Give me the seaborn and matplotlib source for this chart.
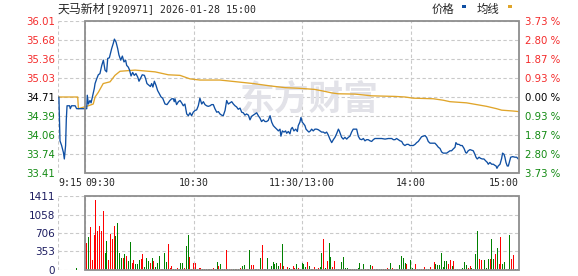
import matplotlib
matplotlib.use("Agg")
import matplotlib.pyplot as plt
import seaborn as sns
import pandas as pd
from matplotlib.patches import Rectangle

# ---------------- data ----------------
title_name = "天马新材"
title_rest = "[920971] 2026-01-28 15:00"
legend_labels = ["价格", "均线"]
watermark = "东方财富"

# minutes after 09:15
time_ticks = [0, 15, 75, 135, 195, 255]
time_labels = ["9:15", "09:30", "10:30", "11:30/13:00", "14:00", "15:00"]

price_ticks = [33.41, 33.74, 34.06, 34.39, 34.71, 35.03, 35.36, 35.68, 36.01]
price_labels = ["33.41", "33.74", "34.06", "34.39", "34.71", "35.03", "35.36", "35.68", "36.01"]
pct_labels = ["3.73 %", "2.80 %", "1.87 %", "0.93 %", "0.00 %", "0.93 %", "1.87 %", "2.80 %", "3.73 %"]
prev_close = 34.71

vol_ticks = [0, 353, 706, 1058, 1411]

price_times = [
    0.5, 1.1, 2.0, 3.0, 3.5, 4.2, 4.6, 5.0, 6.4, 6.8, 7.5, 9.5, 10.3, 15.0,
    15.9, 16.2, 16.8, 17.7, 18.3, 19.0, 20.1, 20.5, 21.4, 22.3, 23.2, 24.2, 25.1, 26.0, 26.9, 27.5,
    28.4, 29.7, 30.6, 31.2, 32.1, 33.0, 33.7, 34.7, 35.6, 36.5, 37.4, 38.0, 38.9, 39.6, 40.4, 41.3,
    42.2, 43.1, 44.1, 44.8, 45.5, 46.6, 47.8, 48.5, 49.2, 50.3, 51.1, 51.8, 52.5, 53.3, 54.2, 55.1,
    56.0, 57.0, 57.9, 59.2, 60.3, 61.0, 61.9, 62.9, 63.8, 64.3,
    64.7, 65.6, 66.6, 67.5, 68.4, 69.3, 70.2, 71.2, 72.1, 73.0, 73.9, 74.8, 75.8, 76.7, 77.6, 78.5,
    79.5, 80.4, 81.3, 82.2, 83.1, 84.1, 85.0, 85.9, 86.8, 87.8, 88.7, 89.6, 90.5, 91.4, 92.4, 93.3,
    94.2, 95.1, 96.1, 97.0, 97.9, 98.8, 99.7, 100.7, 101.6, 102.5, 103.4, 104.3, 105.3, 106.2, 107.1,
    108.0, 109.0, 109.9, 110.8, 111.7, 112.6, 113.6, 114.5, 115.4, 116.3, 117.3, 118.2, 119.1, 120.0,
    121.0, 121.9, 122.8, 123.3, 124.1, 125.0, 125.9, 126.5, 127.4,
    128.3, 128.9, 129.6, 130.5, 131.5, 132.4, 132.9, 133.8, 134.4, 135.1, 135.9, 136.6, 137.2, 138.1,
    138.8, 139.6, 140.3, 141.2, 142.1, 143.1, 144.0, 144.9, 145.8, 146.8, 147.7, 148.6, 149.5, 150.4,
    151.4, 152.3, 153.2, 154.1, 155.1, 155.6, 156.2, 156.9, 157.8, 158.7, 159.7, 160.6, 161.5, 162.4,
    163.3, 164.3, 165.2, 166.1, 167.0, 168.0, 168.9, 169.8, 170.7, 171.6, 172.6, 173.5, 174.4, 175.3,
    177.2, 179.0, 180.9, 182.7, 184.6, 185.5, 186.4, 187.3, 188.2, 189.2,
    190.1, 191.0, 191.9, 192.9, 193.8, 194.7, 195.6, 196.5, 197.5, 198.4, 199.3, 200.2, 201.1, 202.1,
    203.0, 203.9, 204.8, 205.8, 206.7, 207.6, 208.5, 209.4, 210.4, 211.3, 212.2, 213.1, 214.0, 215.0,
    215.9, 216.8, 217.7, 218.6, 219.6, 220.1, 220.9, 221.8, 222.7, 223.6, 224.6, 225.5, 226.0, 226.9,
    227.9, 228.8, 229.7, 230.6, 231.2, 231.9, 232.9, 233.8, 234.7, 235.6, 236.5, 237.5, 238.0, 238.9,
    239.9, 240.8, 241.7, 242.3, 242.8, 243.5, 244.5, 245.4, 245.9, 246.7, 247.2, 247.8, 248.5, 249.1,
    249.6, 250.4, 251.5, 252.8, 253.7, 254.6,
]
price_values = [
    34.71, 33.96, 33.88, 33.76, 33.65, 33.88, 34.33, 34.56, 34.56, 34.51, 34.56, 34.56, 34.51, 34.51,
    34.51, 34.74, 34.59, 34.65, 34.61, 34.71, 34.86, 34.94, 35.02, 35.09, 35.11, 35.25, 35.34, 35.17, 35.14, 35.37,
    35.38, 35.54, 35.63, 35.70, 35.65, 35.54, 35.43, 35.34, 35.41, 35.31, 35.34, 35.25, 35.22, 35.17, 35.07, 35.13,
    35.08, 35.11, 35.05, 34.98, 35.02, 35.09, 35.08, 35.02, 34.94, 34.91, 34.89, 34.94, 34.88, 34.98, 34.91, 34.82,
    34.77, 34.71, 34.69, 34.59, 34.58, 34.61, 34.65, 34.68, 34.68, 34.63,
    34.68, 34.58, 34.63, 34.65, 34.61, 34.56, 34.59, 34.42, 34.39, 34.44, 34.39, 34.45, 34.48, 34.49, 34.56, 34.69,
    34.59, 34.63, 34.58, 34.56, 34.55, 34.56, 34.58, 34.58, 34.51, 34.45, 34.46, 34.42, 34.40, 34.39, 34.48, 34.65,
    34.59, 34.61, 34.63, 34.59, 34.56, 34.54, 34.50, 34.52, 34.45, 34.44, 34.40, 34.42, 34.40, 34.32, 34.38,
    34.40, 34.42, 34.44, 34.39, 34.35, 34.29, 34.32, 34.29, 34.29, 34.31, 34.39, 34.28, 34.22, 34.19,
    34.16, 34.13, 34.16, 34.04, 34.13, 34.11, 34.13, 34.09, 34.12,
    34.08, 34.16, 34.19, 34.13, 34.16, 34.12, 34.22, 34.28, 34.36, 34.28, 34.25, 34.22, 34.16, 34.13,
    34.11, 34.13, 34.16, 34.13, 34.16, 34.16, 34.15, 34.13, 34.11, 34.11, 34.09, 34.11, 34.06, 33.99,
    33.93, 33.98, 34.02, 34.08, 34.16, 34.13, 34.08, 34.02, 33.99, 34.02, 33.99, 34.02, 34.04, 34.11,
    34.16, 34.16, 34.16, 34.04, 33.99, 33.98, 34.00, 33.96, 33.98, 33.98, 33.96, 33.95, 33.98, 34.00,
    34.00, 34.00, 33.99, 34.00, 34.00, 33.98, 33.98, 34.00, 33.98, 33.96,
    33.95, 33.90, 33.88, 33.90, 33.90, 33.88, 33.88, 33.88, 33.90, 33.93, 33.95, 33.99, 34.03, 34.04,
    34.05, 34.02, 33.95, 33.92, 33.92, 33.92, 33.92, 33.89, 33.85, 33.83, 33.77, 33.75, 33.75, 33.75,
    33.77, 33.79, 33.79, 33.82, 33.85, 33.93, 33.90, 33.90, 33.88, 33.88, 33.83, 33.76, 33.75, 33.79,
    33.81, 33.80, 33.79, 33.73, 33.68, 33.65, 33.68, 33.66, 33.65, 33.65, 33.62, 33.59, 33.56, 33.59,
    33.56, 33.56, 33.54, 33.53, 33.49, 33.53, 33.56, 33.66, 33.75, 33.73, 33.68, 33.59, 33.53, 33.53,
    33.59, 33.68, 33.69, 33.68, 33.68, 33.65,
]

avg_times = [0.5, 10.9, 11.3, 16.8, 19.5, 20.5, 22.3, 25.0, 28.8, 31.5, 34.3, 42.6, 53.7, 61.0, 67.5,
             73.0, 78.5, 89.6, 98.8, 108.0, 117.3, 125.6, 132.9, 142.0, 147.7, 151.4, 155.0, 164.3,
             173.5, 186.4, 192.0, 196.5, 207.6, 213.1, 216.8, 226.0, 231.6, 237.1, 242.6, 245.4, 251.8, 255.0]
avg_values = [34.71, 34.71, 34.51, 34.56, 34.59, 34.71, 34.79, 34.94, 34.97, 35.08, 35.15, 35.17, 35.14, 35.09,
              35.08, 35.02, 35.00, 35.00, 34.97, 34.94, 34.90, 34.87, 34.86, 34.84, 34.805, 34.78, 34.765,
              34.76, 34.73, 34.72, 34.71, 34.69, 34.68, 34.655, 34.63, 34.61, 34.58, 34.55, 34.51, 34.485,
              34.47, 34.46]

# call-auction volume at 09:25 plus one bar per trading minute (09:31 .. 15:00)
auction_time = 10
auction_volume = 39
auction_dir = "g"
vol_values = [
    517, 628, 824, 183, 667, 1334, 745, 843, 745, 1118,
    333, 549, 190, 693, 595, 843, 647, 902, 320, 222,
    222, 300, 275, 176, 530, 137, 196, 118, 105, 196,
    209, 314, 59, 235, 170, 137, 222, 170, 65, 124,
    275, 26, 20, 320, 144, 497, 39, 78, 26, 26,
    39, 20, 124, 124, 39, 451, 667, 242, 26, 124,
    124, 26, 39, 39, 26, 20, 20, 20, 20, 20,
    39, 26, 157, 78, 118, 26, 26, 373, 26, 20,
    20, 20, 20, 20, 20, 39, 78, 92, 20, 20,
    373, 92, 92, 26, 26, 20, 235, 471, 26, 26,
    235, 26, 78, 157, 105, 137, 78, 124, 497, 72,
    26, 59, 39, 20, 72, 39, 105, 39, 26, 137,
    105, 59, 157, 78, 26, 20, 59, 20, 39, 59,
    320, 595, 39, 177, 517, 242, 59, 177, 20, 20,
    20, 157, 255, 39, 39, 20, 20, 20, 20, 20,
    39, 137, 20, 118, 20, 20, 20, 98, 78, 20,
    20, 20, 20, 20, 20, 20, 39, 20, 137, 39,
    20, 20, 20, 98, 275, 235, 137, 105, 20, 196,
    39, 20, 118, 20, 20, 20, 20, 59, 20, 20,
    59, 20, 157, 118, 98, 98, 333, 59, 177, 177,
    118, 196, 78, 177, 20, 20, 20, 20, 39, 157,
    98, 39, 78, 39, 20, 314, 745, 216, 196, 20,
    196, 39, 216, 216, 589, 216, 314, 412, 118, 628,
    118, 157, 20, 20, 667, 216, 294, 20, 20, 314,
]
vol_dirs = list(
    "rgrrrrrrrr" "ggrrrrgggg" "rgrggrrggg" "rrgggrgrgg"
    "grrggrrrgg" "rgggrggrgr" "rgrrgrgrgr" "rggrgggrgr"
    "rggrgrgggr" "grrggrgrgg" "gggggggrgr" "grggrrgrrg"
    "ggrggrrgrg" "grgrggrrgr" "gggggrgrgg" "ggggrrggrr"
    "grggrgrggr" "rggggggrgg" "ggrgrrgrgg" "rgrggggggg"
    "rrgrggrggg" "grrggggrrg" "gggrggrgrr" "gggggrrggg"
)

# ---------------- style ----------------
W, H = 578, 276
BLUE = "#0f4fa3"
GOLD = "#e0a52a"
RED = "#ff0000"
GREEN = "#008000"
UPTXT = "#f42a2a"
DNTXT = "#118a11"
NAVY = "#1c1c60"
GRID = "#c9c9c9"
FRAME = "#8e8e8e"

sns.set_theme(style="white")
plt.rcParams["font.family"] = ["DejaVu Sans", "Noto Sans CJK SC"]

fig = plt.figure(figsize=(W / 100, H / 100), dpi=100)
fig.patch.set_facecolor("white")


def fx(px):
    return px / W


def fy(py):
    return 1 - py / H


ax = fig.add_axes([fx(58), fy(173), fx(519) - fx(58), fy(21) - fy(173)])
axv = fig.add_axes([fx(58), fy(270), fx(519) - fx(58), fy(196) - fy(270)])

# ---------------- price panel ----------------
price_df = pd.DataFrame({"t": price_times, "p": price_values})
avg_df = pd.DataFrame({"t": avg_times, "p": avg_values})
sns.lineplot(data=avg_df, x="t", y="p", ax=ax, color=GOLD, lw=0.95, estimator=None, sort=False, zorder=3)
sns.lineplot(data=price_df, x="t", y="p", ax=ax, color=BLUE, lw=0.95, estimator=None, sort=False, zorder=4)

ax.set_xlim(time_ticks[0], time_ticks[-1])
ax.set_ylim(price_ticks[0], price_ticks[-1])
ax.set_xlabel("")
ax.set_ylabel("")
for s in ax.spines.values():
    s.set_visible(False)
ax.set_axisbelow(True)
ax.grid(True, color=GRID, ls=(0, (3.0, 2.2)), lw=0.8)

ax.set_yticks(price_ticks)
ax.set_yticklabels(price_labels)
ax.tick_params(axis="y", length=0, pad=2, labelsize=7.3)
for lab, v in zip(ax.get_yticklabels(), price_ticks):
    lab.set_color(UPTXT if v > prev_close else ("black" if v == prev_close else DNTXT))

ax.set_xticks(time_ticks)
ax.set_xticklabels(time_labels, family="DejaVu Sans Mono", fontsize=7.1)
ax.tick_params(axis="x", length=0, pad=3.5)
xl = ax.get_xticklabels()
xl[0].set_ha("left")
xl[1].set_ha("left")
xl[-1].set_ha("right")

axr = ax.twinx()
axr.set_ylim(ax.get_ylim())
axr.set_yticks(price_ticks)
axr.set_yticklabels(pct_labels)
axr.tick_params(axis="y", length=0, pad=4.5, labelsize=7.3)
for s in axr.spines.values():
    s.set_visible(False)
axr.grid(False)
for lab, v in zip(axr.get_yticklabels(), price_ticks):
    lab.set_color(UPTXT if v > prev_close else ("black" if v == prev_close else DNTXT))

ax.add_patch(Rectangle((time_ticks[1], price_ticks[0]), time_ticks[-1] - time_ticks[1],
                       price_ticks[-1] - price_ticks[0], fill=False, ec=FRAME, lw=1.3,
                       clip_on=False, zorder=6))

ax.text(0.545, 0.49, watermark, transform=ax.transAxes, ha="center", va="center",
        fontsize=25, fontweight="bold", color="#e2e2e8", family="Noto Sans CJK SC", zorder=1)

# ---------------- volume panel ----------------
vol_df = pd.DataFrame({
    "t": [auction_time] + [time_ticks[1] + i + 1 for i in range(len(vol_values))],
    "v": [auction_volume] + vol_values,
    "d": [auction_dir] + vol_dirs,
})
sns.barplot(data=vol_df, x="t", y="v", hue="d", palette={"r": RED, "g": GREEN}, native_scale=True,
            width=0.55, dodge=False, errorbar=None, saturation=1, legend=False, linewidth=0, ax=axv)
axv.set_xlim(time_ticks[0], time_ticks[-1])
axv.set_ylim(vol_ticks[0], vol_ticks[-1])
axv.set_xlabel("")
axv.set_ylabel("")
for s in axv.spines.values():
    s.set_visible(False)
axv.set_axisbelow(True)
axv.set_xticks(time_ticks)
axv.set_xticklabels([])
axv.grid(True, color=GRID, ls=(0, (3.0, 2.2)), lw=0.8)
axv.set_yticks(vol_ticks)
axv.set_yticklabels([str(v) for v in vol_ticks], color=NAVY)
axv.tick_params(axis="y", length=0, pad=2, labelsize=7.5)
axv.tick_params(axis="x", length=0)
axv.add_patch(Rectangle((time_ticks[1], vol_ticks[0]), time_ticks[-1] - time_ticks[1],
                        vol_ticks[-1] - vol_ticks[0], fill=False, ec=FRAME, lw=1.3,
                        clip_on=False, zorder=6))

# ---------------- header ----------------
fig.text(fx(58), fy(9.5), title_name, family="Noto Sans CJK SC", fontsize=8.6, va="center", ha="left")
fig.text(fx(106), fy(9.5), title_rest, family="DejaVu Sans Mono", fontsize=7.1, va="center", ha="left")

fig.text(fx(432), fy(9.5), legend_labels[0], family="Noto Sans CJK SC", fontsize=8.2, va="center", ha="left")
fig.text(fx(477), fy(9.5), legend_labels[1], family="Noto Sans CJK SC", fontsize=8.2, va="center", ha="left")
fig.add_artist(Rectangle((fx(461.5), fy(8)), fx(4), fy(5) - fy(8), transform=fig.transFigure,
                         fc=BLUE, ec="none"))
fig.add_artist(Rectangle((fx(508), fy(8)), fx(4), fy(5) - fy(8), transform=fig.transFigure,
                         fc=GOLD, ec="none"))

fig.savefig("out.png", dpi=100)
